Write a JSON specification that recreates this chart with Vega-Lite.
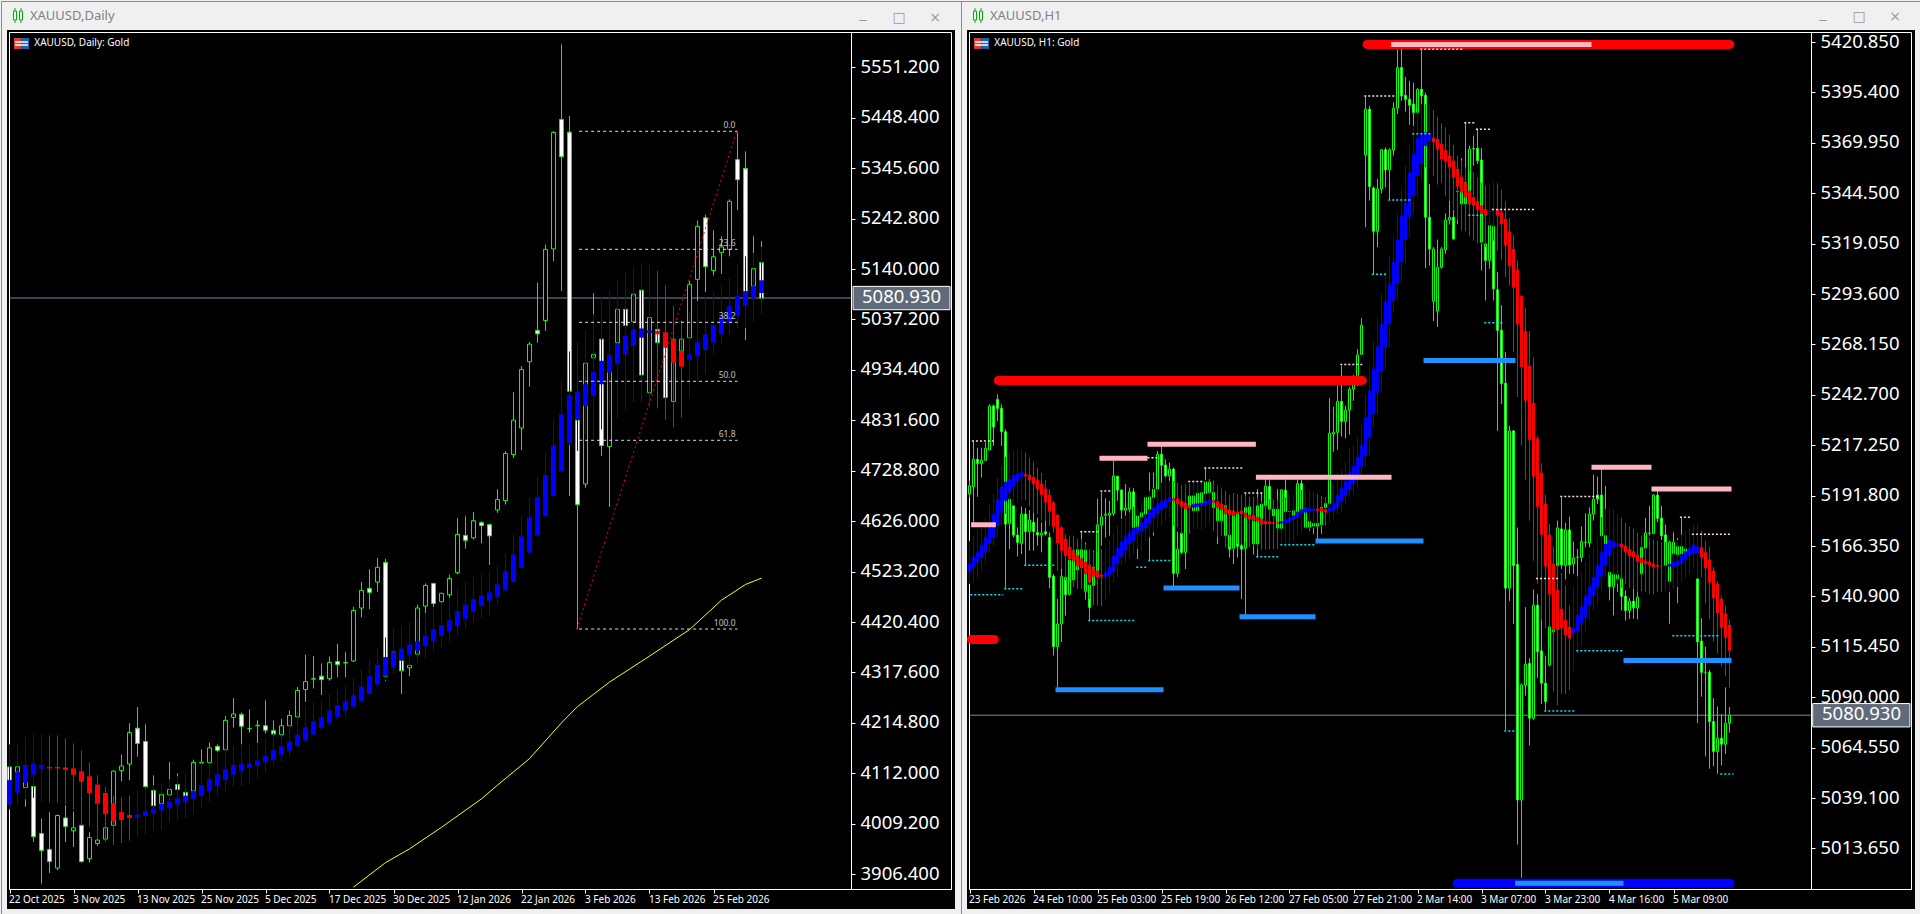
{"$schema":"https://vega.github.io/schema/vega-lite/v6.json","background":"#F0F0F0","padding":0,"spacing":0,"bounds":"flush","config":{"view":{"stroke":null}},
"datasets":{
"daily":[
{"i":0,"o":4125,"h":4144,"l":4082,"c":4098,"ho":4048.5,"hh":4171,"hl":4038,"hc":4098},
{"i":1,"o":4114.5,"h":4130,"l":4106,"c":4125.3,"ho":4072.3,"hh":4173,"hl":4048.5,"hc":4114.5},
{"i":2,"o":4083,"h":4137,"l":4044,"c":4110,"ho":4093,"hh":4186,"hl":4059,"hc":4129},
{"i":3,"o":4085,"h":4123,"l":3972,"c":3983,"ho":4109,"hh":4194,"hl":4062,"hc":4132},
{"i":4,"o":3989.3,"h":4020,"l":3887,"c":3955,"ho":4121,"hh":4191,"hl":4055,"hc":4129},
{"i":5,"o":3957,"h":4033,"l":3909,"c":3932,"ho":4125,"hh":4189,"hl":4053,"hc":4122},
{"i":6,"o":3919,"h":4028,"l":3915,"c":4026,"ho":4125,"hh":4189,"hl":4052,"hc":4122},
{"i":7,"o":4021,"h":4047,"l":3972,"c":4004,"ho":4124,"hh":4183,"hl":4049,"hc":4119},
{"i":8,"o":3995,"h":4034,"l":3962,"c":4001,"ho":4122,"hh":4173,"hl":4038,"hc":4109},
{"i":9,"o":4006,"h":4006,"l":3930,"c":3932,"ho":4116,"hh":4159,"hl":4006,"hc":4095},
{"i":10,"o":3938,"h":3992,"l":3930,"c":3981,"ho":4106,"hh":4134,"hl":4004,"hc":4072},
{"i":11,"o":3969,"h":3987,"l":3964,"c":3976,"ho":4089,"hh":4108,"hl":3977,"hc":4050},
{"i":12,"o":3978,"h":4055,"l":3972,"c":4001,"ho":4072,"hh":4084,"hl":3972,"hc":4029},
{"i":13,"o":4006,"h":4118,"l":4004,"c":4116.5,"ho":4051,"hh":4065,"hl":3966,"hc":4015},
{"i":14,"o":4118,"h":4150,"l":4096,"c":4127,"ho":4033,"hh":4063,"hl":3970,"hc":4017},
{"i":15,"o":4131,"h":4214,"l":4098,"c":4195,"ho":4027,"hh":4067,"hl":3975,"hc":4021},
{"i":16,"o":4204,"h":4247,"l":4146,"c":4173,"ho":4023,"hh":4076,"hl":3983,"hc":4028},
{"i":17,"o":4177,"h":4212,"l":4076,"c":4085,"ho":4025,"hh":4084,"hl":3987,"hc":4035},
{"i":18,"o":4077,"h":4108,"l":4042,"c":4046,"ho":4030,"hh":4088,"hl":3995,"hc":4040},
{"i":19,"o":4050,"h":4072,"l":3999,"c":4069,"ho":4036,"hh":4092,"hl":3999,"hc":4049},
{"i":20,"o":4068,"h":4135,"l":4055,"c":4079,"ho":4041,"hh":4100,"hl":4012,"hc":4055},
{"i":21,"o":4089,"h":4112,"l":4062,"c":4079,"ho":4048,"hh":4106,"hl":4017,"hc":4061},
{"i":22,"o":4073,"h":4089,"l":4062,"c":4066,"ho":4053,"hh":4110,"hl":4021,"hc":4066},
{"i":23,"o":4076,"h":4140,"l":4062,"c":4134,"ho":4060,"hh":4130,"hl":4030,"hc":4076},
{"i":24,"o":4133,"h":4161,"l":4088,"c":4134,"ho":4066,"hh":4134,"hl":4041,"hc":4088},
{"i":25,"o":4134,"h":4175,"l":4130,"c":4164,"ho":4076,"hh":4142,"hl":4053,"hc":4100},
{"i":26,"o":4167,"h":4171,"l":4154,"c":4159,"ho":4086,"hh":4156,"hl":4066,"hc":4110},
{"i":27,"o":4160,"h":4229,"l":4157,"c":4220,"ho":4098,"hh":4168,"hl":4076,"hc":4120},
{"i":28,"o":4226,"h":4265,"l":4205,"c":4233,"ho":4109,"hh":4168,"hl":4085,"hc":4129},
{"i":29,"o":4232,"h":4236,"l":4171,"c":4208,"ho":4117,"hh":4170,"hl":4086,"hc":4131.5},
{"i":30,"o":4203,"h":4242,"l":4195,"c":4203,"ho":4123,"hh":4170,"hl":4092,"hc":4132},
{"i":31,"o":4209,"h":4220,"l":4174,"c":4210,"ho":4127,"hh":4171,"hl":4103,"hc":4138},
{"i":32,"o":4209,"h":4261,"l":4193,"c":4200,"ho":4134,"hh":4182,"hl":4114,"hc":4148},
{"i":33,"o":4199,"h":4220,"l":4178,"c":4192,"ho":4139,"hh":4195,"hl":4129,"hc":4159},
{"i":34,"o":4191,"h":4223,"l":4178,"c":4209,"ho":4150,"hh":4199,"hl":4137,"hc":4167},
{"i":35,"o":4209,"h":4240,"l":4198,"c":4230,"ho":4158,"hh":4220,"hl":4147,"hc":4177},
{"i":36,"o":4227,"h":4288,"l":4219,"c":4281,"ho":4168,"hh":4236,"hl":4164,"hc":4191},
{"i":37,"o":4283,"h":4354,"l":4258,"c":4299,"ho":4179,"hh":4248,"hl":4174,"hc":4206},
{"i":38,"o":4304,"h":4351,"l":4285,"c":4305,"ho":4191,"hh":4256,"hl":4188,"hc":4218},
{"i":39,"o":4310,"h":4336,"l":4272,"c":4303,"ho":4204,"hh":4261,"hl":4198,"hc":4227},
{"i":40,"o":4305,"h":4350,"l":4301,"c":4338,"ho":4215,"hh":4274,"hl":4208,"hc":4240},
{"i":41,"o":4340,"h":4376,"l":4308,"c":4334,"ho":4227,"hh":4283,"hl":4221,"hc":4251},
{"i":42,"o":4337,"h":4359,"l":4308,"c":4338,"ho":4240,"hh":4289,"hl":4227,"hc":4259},
{"i":43,"o":4341,"h":4451,"l":4339,"c":4444,"ho":4248,"hh":4306,"hl":4242,"hc":4271},
{"i":44,"o":4449,"h":4502,"l":4430,"c":4485,"ho":4259,"hh":4324,"hl":4256,"hc":4289},
{"i":45,"o":4489,"h":4528,"l":4447,"c":4481,"ho":4274,"hh":4344,"hl":4273,"hc":4310},
{"i":46,"o":4502,"h":4551,"l":4482,"c":4532,"ho":4293,"hh":4367,"hl":4292,"hc":4333},
{"i":47,"o":4542,"h":4549,"l":4300,"c":4310,"ho":4310,"hh":4389,"hl":4302,"hc":4349},
{"i":48,"o":4359,"h":4405,"l":4317,"c":4330,"ho":4328,"hh":4405,"hl":4317,"hc":4359},
{"i":49,"o":4342,"h":4375,"l":4274,"c":4321,"ho":4342,"hh":4411,"hl":4320,"hc":4366},
{"i":50,"o":4327,"h":4368,"l":4310,"c":4332,"ho":4354,"hh":4419,"hl":4330,"hc":4375},
{"i":51,"o":4355,"h":4456,"l":4354,"c":4449,"ho":4362,"hh":4428,"hl":4337,"hc":4381},
{"i":52,"o":4453,"h":4499,"l":4438,"c":4495,"ho":4371,"hh":4439,"hl":4346,"hc":4393},
{"i":53,"o":4499,"h":4501,"l":4451,"c":4458,"ho":4382,"hh":4449,"hl":4360,"hc":4406},
{"i":54,"o":4462,"h":4480,"l":4460,"c":4479,"ho":4392,"hh":4460,"hl":4368,"hc":4414},
{"i":55,"o":4476,"h":4517,"l":4470,"c":4509,"ho":4402,"hh":4468,"hl":4378,"hc":4424},
{"i":56,"o":4521,"h":4632,"l":4518,"c":4599,"ho":4412,"hh":4489,"hl":4392,"hc":4443},
{"i":57,"o":4597,"h":4636,"l":4570,"c":4587,"ho":4427,"hh":4502,"hl":4408,"hc":4456},
{"i":58,"o":4592,"h":4645,"l":4589,"c":4627,"ho":4441,"hh":4512,"hl":4420,"hc":4467},
{"i":59,"o":4623,"h":4626,"l":4581,"c":4617,"ho":4453,"hh":4520,"hl":4428,"hc":4475},
{"i":60,"o":4619,"h":4621,"l":4537,"c":4596,"ho":4464,"hh":4524,"hl":4432,"hc":4481},
{"i":61,"o":4649,"h":4691,"l":4643,"c":4670,"ho":4472,"hh":4534,"hl":4457,"hc":4497},
{"i":62,"o":4668,"h":4769,"l":4660,"c":4764,"ho":4485,"hh":4561,"hl":4480,"hc":4524},
{"i":63,"o":4762,"h":4889,"l":4755,"c":4832,"ho":4502,"hh":4598,"hl":4500,"hc":4558},
{"i":64,"o":4816,"h":4942,"l":4771,"c":4935,"ho":4531,"hh":4636,"hl":4529,"hc":4595},
{"i":65,"o":4951,"h":4991,"l":4900,"c":4987,"ho":4562,"hh":4674,"hl":4560,"hc":4634},
{"i":66,"o":5015,"h":5112,"l":4990,"c":5008,"ho":4597,"hh":4717,"hl":4597,"hc":4675},
{"i":67,"o":5035,"h":5190,"l":5014,"c":5180,"ho":4636,"hh":4766,"hl":4636,"hc":4720},
{"i":68,"o":5181,"h":5421,"l":5156,"c":5418.5,"ho":4677,"hh":4834,"hl":4677,"hc":4781},
{"i":69,"o":5445,"h":5598,"l":5095,"c":5369,"ho":4728,"hh":4912,"hl":4728,"hc":4844},
{"i":70,"o":5419,"h":5452,"l":4677,"c":4891,"ho":4786,"hh":4972,"hl":4781,"hc":4883},
{"i":71,"o":4832,"h":4844,"l":4406,"c":4660,"ho":4832,"hh":4990,"hl":4769,"hc":4889},
{"i":72,"o":4702,"h":4952,"l":4694,"c":4948,"ho":4861,"hh":5014,"hl":4803,"hc":4905},
{"i":73,"o":4959,"h":5091,"l":4939,"c":4966,"ho":4881,"hh":5048,"hl":4796,"hc":4930},
{"i":74,"o":4997,"h":4999,"l":4759,"c":4780,"ho":4905,"hh":5082,"hl":4813,"hc":4953},
{"i":75,"o":4778,"h":5075,"l":4655,"c":4950,"ho":4929,"hh":5095,"hl":4851,"hc":4965},
{"i":76,"o":4990,"h":5082,"l":4983,"c":5058,"ho":4946,"hh":5117,"hl":4835,"hc":4987},
{"i":77,"o":5058,"h":5075,"l":5024,"c":5025,"ho":4966,"hh":5133,"hl":4851,"hc":5004},
{"i":78,"o":5033,"h":5095,"l":5027,"c":5089,"ho":4983,"hh":5144,"hl":4869,"hc":5017},
{"i":79,"o":5097,"h":5116,"l":4922,"c":4924,"ho":5000,"hh":5152,"hl":4867,"hc":5019},
{"i":80,"o":4888,"h":5048,"l":4881,"c":5041,"ho":5010,"hh":5148,"hl":4857,"hc":5015},
{"i":81,"o":5017,"h":5020,"l":4987,"c":4990,"ho":5014,"hh":5136,"hl":4856,"hc":5007},
{"i":82,"o":4980,"h":4987,"l":4871,"c":4878,"ho":5011,"hh":5107,"hl":4833,"hc":4980},
{"i":83,"o":4870,"h":5004,"l":4864,"c":4997,"ho":4997,"hh":5065,"hl":4817,"hc":4949},
{"i":84,"o":4973,"h":5034,"l":4952,"c":4997,"ho":4973,"hh":5031,"hl":4837,"hc":4941},
{"i":85,"o":5000,"h":5116,"l":4993,"c":5109,"ho":4955,"hh":5051,"hl":4878,"hc":4966},
{"i":86,"o":5119,"h":5239,"l":5074,"c":5227,"ho":4962,"hh":5068,"hl":4910,"hc":4991},
{"i":87,"o":5244.4,"h":5251,"l":5093,"c":5145,"ho":4975,"hh":5082,"hl":4925,"hc":5007},
{"i":88,"o":5137,"h":5219,"l":5127,"c":5165,"ho":4990,"hh":5093,"hl":4967,"hc":5026},
{"i":89,"o":5174,"h":5207,"l":5130,"c":5185,"ho":5007,"hh":5108,"hl":4987,"hc":5046},
{"i":90,"o":5180,"h":5282,"l":5166,"c":5278,"ho":5029,"hh":5123,"hl":5007,"hc":5065},
{"i":91,"o":5363,"h":5418,"l":5260,"c":5322,"ho":5044,"hh":5148,"hl":5020,"hc":5085},
{"i":92,"o":5345,"h":5380,"l":4995,"c":5085,"ho":5065,"hh":5166,"hl":5020,"hc":5095},
{"i":93,"o":5105,"h":5207,"l":5034,"c":5141,"ho":5080,"hh":5173,"hl":5034,"hc":5105},
{"i":94,"o":5153,"h":5197,"l":5065,"c":5080.93,"ho":5091,"hh":5185,"hl":5048,"hc":5117}
],
"ma":[{"i":43,"v":3880},{"i":47,"v":3930},{"i":50,"v":3958},{"i":54,"v":4002},{"i":59,"v":4060},{"i":61,"v":4088},{"i":65,"v":4142},{"i":69,"v":4215},{"i":71,"v":4248},{"i":75,"v":4298},{"i":80,"v":4351},{"i":85,"v":4405},{"i":89,"v":4465},{"i":92,"v":4497},{"i":94,"v":4510}],
"fib":[{"a":71.2,"b":91,"p":5420.8,"t":"0.0"},{"a":71.2,"b":91,"p":5180.2,"t":"23.6"},{"a":71.2,"b":91,"p":5031.4,"t":"38.2"},{"a":71.2,"b":91,"p":4911.2,"t":"50.0"},{"a":71.2,"b":91,"p":4790.9,"t":"61.8"},{"a":71.2,"b":91,"p":4406.2,"t":"100.0"}],
"h1":[
{"i":0,"o":5192.6,"h":5199.3,"l":5190.9,"c":5196.8,"ho":5153.1,"hh":5169,"hl":5147.2,"hc":5157.3},
{"i":1,"o":5196.3,"h":5219.4,"l":5177.4,"c":5210.2,"ho":5155.6,"hh":5171.6,"hl":5148,"hc":5161},
{"i":2,"o":5210.2,"h":5216,"l":5191.2,"c":5208,"ho":5158.1,"hh":5174.1,"hl":5150.6,"hc":5163.2},
{"i":3,"o":5208,"h":5216,"l":5201,"c":5209.7,"ho":5160.3,"hh":5177.4,"hl":5153.9,"hc":5167},
{"i":4,"o":5209.7,"h":5218.6,"l":5209.4,"c":5215.7,"ho":5163.2,"hh":5180.8,"hl":5157.6,"hc":5171},
{"i":5,"o":5214.9,"h":5237.9,"l":5214.7,"c":5237.1,"ho":5167.4,"hh":5187.2,"hl":5162.7,"hc":5175.8},
{"i":6,"o":5237.1,"h":5237.9,"l":5216.9,"c":5226.5,"ho":5170.7,"hh":5192.9,"hl":5166.5,"hc":5182.5},
{"i":7,"o":5240.4,"h":5243,"l":5229.5,"c":5235.9,"ho":5176.6,"hh":5200.6,"hl":5170.7,"hc":5190},
{"i":8,"o":5235.9,"h":5237.9,"l":5216.9,"c":5224.1,"ho":5183.3,"hh":5206.8,"hl":5176.6,"hc":5196.3},
{"i":9,"o":5224.1,"h":5225.3,"l":5144.7,"c":5177.4,"ho":5189.2,"hh":5211.4,"hl":5182.5,"hc":5198.8},
{"i":10,"o":5177.8,"h":5190,"l":5164.8,"c":5190,"ho":5193.4,"hh":5213.6,"hl":5185,"hc":5200.1},
{"i":11,"o":5186.7,"h":5190,"l":5170.7,"c":5171.9,"ho":5196.3,"hh":5214.7,"hl":5186.7,"hc":5202.3},
{"i":12,"o":5171.9,"h":5175.8,"l":5161.1,"c":5168.2,"ho":5199.3,"hh":5215.7,"hl":5188.4,"hc":5203.1},
{"i":13,"o":5167.7,"h":5186.2,"l":5162.3,"c":5182.5,"ho":5201.3,"hh":5215,"hl":5189.5,"hc":5203.6},
{"i":14,"o":5182.5,"h":5185.5,"l":5156.4,"c":5173.7,"ho":5202.6,"hh":5213.6,"hl":5189.5,"hc":5201.6},
{"i":15,"o":5173.7,"h":5184.5,"l":5164,"c":5179.5,"ho":5202.3,"hh":5211,"hl":5186.5,"hc":5199.6},
{"i":16,"o":5178.3,"h":5183.3,"l":5164,"c":5173.7,"ho":5201.3,"hh":5208.9,"hl":5183.3,"hc":5197.6},
{"i":17,"o":5173.2,"h":5180.8,"l":5166.5,"c":5171.9,"ho":5199.8,"hh":5206,"hl":5182.5,"hc":5195.2},
{"i":18,"o":5171.9,"h":5178.3,"l":5163.2,"c":5172.9,"ho":5197.9,"hh":5203.3,"hl":5179.1,"hc":5192.2},
{"i":19,"o":5173.6,"h":5181.6,"l":5171.6,"c":5172.4,"ho":5195.4,"hh":5199.6,"hl":5179.1,"hc":5188.4},
{"i":20,"o":5170.7,"h":5173.2,"l":5145,"c":5150.6,"ho":5192.2,"hh":5195.1,"hl":5176.6,"hc":5183.7},
{"i":21,"o":5151.1,"h":5152.2,"l":5111.1,"c":5115.6,"ho":5188.4,"hh":5189.2,"hl":5173.2,"hc":5176.1},
{"i":22,"o":5115.6,"h":5139.6,"l":5095.1,"c":5127,"ho":5182.1,"hh":5182.5,"hl":5153.9,"hc":5167.9},
{"i":23,"o":5127,"h":5155.6,"l":5117.8,"c":5150.9,"ho":5175.8,"hh":5176.6,"hl":5154.8,"hc":5164},
{"i":24,"o":5150.6,"h":5153.9,"l":5131.2,"c":5141.8,"ho":5170,"hh":5172.4,"hl":5148.9,"hc":5161.3},
{"i":25,"o":5142,"h":5162.3,"l":5141.3,"c":5159.3,"ho":5166,"hh":5171.6,"hl":5148,"hc":5159.8},
{"i":26,"o":5149.2,"h":5167.4,"l":5148.9,"c":5164,"ho":5164,"hh":5171.6,"hl":5145.5,"hc":5159},
{"i":27,"o":5164.5,"h":5169,"l":5152.2,"c":5154.3,"ho":5161.5,"hh":5169.9,"hl":5144.7,"hc":5156.1},
{"i":28,"o":5155.6,"h":5173.2,"l":5153.9,"c":5164.5,"ho":5160.1,"hh":5169.9,"hl":5144.7,"hc":5155.6},
{"i":29,"o":5143.5,"h":5168.2,"l":5139.3,"c":5164.3,"ho":5158.3,"hh":5167.4,"hl":5144.7,"hc":5152.2},
{"i":30,"o":5146.7,"h":5152.2,"l":5128.7,"c":5135.4,"ho":5156.9,"hh":5164.8,"hl":5139.6,"hc":5148},
{"i":31,"o":5146.4,"h":5164,"l":5136.8,"c":5155.6,"ho":5155.1,"hh":5163.2,"hl":5137.1,"hc":5150.9},
{"i":32,"o":5152.6,"h":5190.2,"l":5140.5,"c":5177.1,"ho":5153.9,"hh":5163.2,"hl":5136.3,"hc":5150.6},
{"i":33,"o":5176.9,"h":5193.6,"l":5166.5,"c":5181.1,"ho":5151.9,"hh":5164.8,"hl":5136,"hc":5150.9},
{"i":34,"o":5182,"h":5190.5,"l":5170.7,"c":5182.3,"ho":5150.9,"hh":5164.8,"hl":5138.8,"hc":5153.1},
{"i":35,"o":5182,"h":5189.2,"l":5171.6,"c":5183,"ho":5151.4,"hh":5169,"hl":5142.2,"hc":5155.9},
{"i":36,"o":5182.8,"h":5209.4,"l":5181.6,"c":5201.8,"ho":5153.1,"hh":5172.7,"hl":5148,"hc":5161.3},
{"i":37,"o":5201.6,"h":5201.8,"l":5189.2,"c":5194.6,"ho":5157.3,"hh":5176.6,"hl":5150.6,"hc":5165.3},
{"i":38,"o":5194.6,"h":5195.1,"l":5180,"c":5184.5,"ho":5161,"hh":5179.5,"hl":5157.3,"hc":5168.7},
{"i":39,"o":5184.5,"h":5197.6,"l":5181.6,"c":5185.5,"ho":5164,"hh":5181.6,"hl":5158.1,"hc":5171.2},
{"i":40,"o":5185,"h":5195.9,"l":5181.6,"c":5193.7,"ho":5167.4,"hh":5183.3,"hl":5159.8,"hc":5173.2},
{"i":41,"o":5193.7,"h":5195.6,"l":5167.4,"c":5175.8,"ho":5169,"hh":5186.2,"hl":5162.3,"hc":5175.3},
{"i":42,"o":5175.8,"h":5184.2,"l":5159.8,"c":5181.6,"ho":5172.7,"hh":5185.5,"hl":5164.8,"hc":5176.1},
{"i":43,"o":5181.1,"h":5185,"l":5180.8,"c":5183.2,"ho":5174.1,"hh":5188.4,"hl":5164,"hc":5178.3},
{"i":44,"o":5182.5,"h":5191.7,"l":5181.6,"c":5190.9,"ho":5175.4,"hh":5191.7,"hl":5169,"hc":5180.8},
{"i":45,"o":5185,"h":5203.5,"l":5159,"c":5191.2,"ho":5177.8,"hh":5194.2,"hl":5170.7,"hc":5183.7},
{"i":46,"o":5190.9,"h":5203.5,"l":5171.6,"c":5195.1,"ho":5180.5,"hh":5195.6,"hl":5173.2,"hc":5185.8},
{"i":47,"o":5195.1,"h":5214.4,"l":5194.2,"c":5212.7,"ho":5182.5,"hh":5197.9,"hl":5175.4,"hc":5187.5},
{"i":48,"o":5212.7,"h":5216.9,"l":5192.6,"c":5207.2,"ho":5184.7,"hh":5198.4,"hl":5176.6,"hc":5189.2},
{"i":49,"o":5207.3,"h":5210.2,"l":5199.3,"c":5201.8,"ho":5185.8,"hh":5201,"hl":5179.1,"hc":5190},
{"i":50,"o":5201.8,"h":5208.5,"l":5198.4,"c":5205.2,"ho":5188.7,"hh":5199.3,"hl":5180.8,"hc":5191.2},
{"i":51,"o":5205.2,"h":5206,"l":5145.5,"c":5152.6,"ho":5190.5,"hh":5199.3,"hl":5176.6,"hc":5189.2},
{"i":52,"o":5152.6,"h":5173.6,"l":5150.6,"c":5164.8,"ho":5190.4,"hh":5198.4,"hl":5175.8,"hc":5187.5},
{"i":53,"o":5172.9,"h":5173.2,"l":5162.3,"c":5163.2,"ho":5189.2,"hh":5197.3,"hl":5172.4,"hc":5186.2},
{"i":54,"o":5163.2,"h":5189.2,"l":5154.8,"c":5186.2,"ho":5188.2,"hh":5197.6,"hl":5173.2,"hc":5185},
{"i":55,"o":5185.8,"h":5193.4,"l":5185,"c":5191.7,"ho":5186.8,"hh":5197.9,"hl":5172.4,"hc":5185.5},
{"i":56,"o":5191.7,"h":5192.6,"l":5183.3,"c":5184.2,"ho":5185.8,"hh":5198.4,"hl":5174.9,"hc":5187.5},
{"i":57,"o":5184.2,"h":5194.2,"l":5183.3,"c":5193.1,"ho":5186.2,"hh":5198.4,"hl":5174.9,"hc":5187.9},
{"i":58,"o":5187.5,"h":5194.2,"l":5186.7,"c":5193.4,"ho":5186.5,"hh":5199.3,"hl":5174.4,"hc":5188.2},
{"i":59,"o":5192.9,"h":5206,"l":5192.6,"c":5198.8,"ho":5187.2,"hh":5199.8,"hl":5175.8,"hc":5189.2},
{"i":60,"o":5193.4,"h":5200.1,"l":5192.6,"c":5198.8,"ho":5187.5,"hh":5199.3,"hl":5177.4,"hc":5189.9},
{"i":61,"o":5193.4,"h":5199.3,"l":5179.1,"c":5185.8,"ho":5189.5,"hh":5198.8,"hl":5174.1,"hc":5188.2},
{"i":62,"o":5179.1,"h":5194.2,"l":5167.4,"c":5185.8,"ho":5188.9,"hh":5196.8,"hl":5170.7,"hc":5185.8},
{"i":63,"o":5179.1,"h":5189.2,"l":5176.6,"c":5185.5,"ho":5187.5,"hh":5195.6,"hl":5171.6,"hc":5184.5},
{"i":64,"o":5171.6,"h":5192.6,"l":5165.7,"c":5186.7,"ho":5186.2,"hh":5194.2,"hl":5165.7,"hc":5182.5},
{"i":65,"o":5171.9,"h":5172.4,"l":5160.6,"c":5164.8,"ho":5184.8,"hh":5192.1,"hl":5165.7,"hc":5182.1},
{"i":66,"o":5165.2,"h":5184.2,"l":5157.3,"c":5183.8,"ho":5184.2,"hh":5193.2,"hl":5164.8,"hc":5181.6},
{"i":67,"o":5183.3,"h":5184.2,"l":5160.6,"c":5166.2,"ho":5183.7,"hh":5192.6,"hl":5167.4,"hc":5182.5},
{"i":68,"o":5166.5,"h":5172.4,"l":5139.6,"c":5164.8,"ho":5184.2,"hh":5192.1,"hl":5167.4,"hc":5182.5},
{"i":69,"o":5165.2,"h":5192.6,"l":5131.2,"c":5185.8,"ho":5183.2,"hh":5191.9,"hl":5168.2,"hc":5180.8},
{"i":70,"o":5180,"h":5190.9,"l":5172.4,"c":5186.2,"ho":5182.1,"hh":5190.9,"hl":5165.7,"hc":5180},
{"i":71,"o":5167.4,"h":5182.5,"l":5162,"c":5179.1,"ho":5182.1,"hh":5191.2,"hl":5166.5,"hc":5179.5},
{"i":72,"o":5167.4,"h":5195.1,"l":5160.6,"c":5186.7,"ho":5181.1,"hh":5190.9,"hl":5164.8,"hc":5178.8},
{"i":73,"o":5177.4,"h":5193.4,"l":5176.6,"c":5187.5,"ho":5180.1,"hh":5189.2,"hl":5164.5,"hc":5177.4},
{"i":74,"o":5186.7,"h":5200.1,"l":5185.8,"c":5196.6,"ho":5179.1,"hh":5189.5,"hl":5164.5,"hc":5177.4},
{"i":75,"o":5196.4,"h":5199.6,"l":5181.6,"c":5185,"ho":5178.6,"hh":5190,"hl":5164.8,"hc":5177.8},
{"i":76,"o":5185,"h":5185.8,"l":5180.8,"c":5181.6,"ho":5178.4,"hh":5190,"hl":5164.8,"hc":5177.8},
{"i":77,"o":5175.4,"h":5195.1,"l":5174.9,"c":5185,"ho":5178.4,"hh":5189.7,"hl":5164.8,"hc":5177.8},
{"i":78,"o":5175.3,"h":5195.1,"l":5169,"c":5194.7,"ho":5177.8,"hh":5190.9,"hl":5167.4,"hc":5178.8},
{"i":79,"o":5194.6,"h":5200.1,"l":5183.3,"c":5183.8,"ho":5178.1,"hh":5190.9,"hl":5164.8,"hc":5179.8},
{"i":80,"o":5183.8,"h":5184.2,"l":5183.3,"c":5183.8,"ho":5178.4,"hh":5192.2,"hl":5167.4,"hc":5180.8},
{"i":81,"o":5181.6,"h":5185,"l":5180.8,"c":5184.2,"ho":5179.5,"hh":5192.2,"hl":5169,"hc":5181.8},
{"i":82,"o":5183.7,"h":5199.8,"l":5182.5,"c":5197.9,"ho":5180.5,"hh":5194.2,"hl":5171.6,"hc":5183.3},
{"i":83,"o":5197.9,"h":5199.8,"l":5185,"c":5185,"ho":5182.5,"hh":5194.6,"hl":5173.2,"hc":5185},
{"i":84,"o":5175.8,"h":5185.8,"l":5174.9,"c":5185.5,"ho":5183.3,"hh":5194.6,"hl":5174.4,"hc":5185.5},
{"i":85,"o":5175.8,"h":5179.1,"l":5174.1,"c":5178.8,"ho":5183.8,"hh":5194.2,"hl":5174.9,"hc":5185.5},
{"i":86,"o":5177.8,"h":5179.1,"l":5172.4,"c":5176.4,"ho":5184.2,"hh":5193.9,"hl":5175.4,"hc":5185.3},
{"i":87,"o":5176.4,"h":5185,"l":5169.9,"c":5177.8,"ho":5185.2,"hh":5192.6,"hl":5176.1,"hc":5184.2},
{"i":88,"o":5177.1,"h":5186.2,"l":5172.4,"c":5185.8,"ho":5185.5,"hh":5191.7,"hl":5176.1,"hc":5183.8},
{"i":89,"o":5185.8,"h":5190.9,"l":5185,"c":5187.9,"ho":5184.8,"hh":5191.2,"hl":5176.6,"hc":5183.3},
{"i":90,"o":5187.9,"h":5241,"l":5185.8,"c":5223.3,"ho":5183.8,"hh":5192.6,"hl":5177.8,"hc":5185.8},
{"i":91,"o":5222.9,"h":5236.7,"l":5214,"c":5223.8,"ho":5184.2,"hh":5197.6,"hl":5179.5,"hc":5187.9},
{"i":92,"o":5223.8,"h":5247.3,"l":5215,"c":5239.4,"ho":5186.2,"hh":5203.5,"hl":5182.5,"hc":5192.2},
{"i":93,"o":5239.4,"h":5257.4,"l":5221.7,"c":5229.3,"ho":5188.7,"hh":5205.2,"hl":5183.3,"hc":5195.6},
{"i":94,"o":5229.3,"h":5237.2,"l":5220.7,"c":5235,"ho":5191.7,"hh":5208.5,"hl":5187.5,"hc":5199.3},
{"i":95,"o":5235,"h":5246.8,"l":5222.6,"c":5245.6,"ho":5194.6,"hh":5216,"hl":5190.9,"hc":5203.5},
{"i":96,"o":5245.6,"h":5252.7,"l":5239.7,"c":5248.1,"ho":5197.6,"hh":5216.9,"hl":5192.2,"hc":5206.8},
{"i":97,"o":5248.1,"h":5265.8,"l":5247.3,"c":5262.9,"ho":5201.8,"hh":5221.5,"hl":5195.9,"hc":5211.4},
{"i":98,"o":5263.2,"h":5281.4,"l":5262.9,"c":5277.9,"ho":5206.5,"hh":5227.8,"hl":5201.8,"hc":5217.4},
{"i":99,"o":5363.8,"h":5393.4,"l":5327.4,"c":5387,"ho":5212,"hh":5243.1,"hl":5206,"hc":5231.3},
{"i":100,"o":5387,"h":5388.7,"l":5340.8,"c":5347.9,"ho":5221.2,"hh":5257.9,"hl":5212,"hc":5244.8},
{"i":101,"o":5347.2,"h":5347.9,"l":5303.5,"c":5325.3,"ho":5233,"hh":5269.5,"hl":5226.3,"hc":5256},
{"i":102,"o":5325.3,"h":5351.7,"l":5317.3,"c":5346.7,"ho":5243.9,"hh":5281.4,"hl":5233,"hc":5267.1},
{"i":103,"o":5346.7,"h":5366.8,"l":5344.5,"c":5366.5,"ho":5254.8,"hh":5294,"hl":5243.9,"hc":5278.4},
{"i":104,"o":5366.5,"h":5367.7,"l":5347.5,"c":5356.3,"ho":5266.6,"hh":5305.2,"hl":5254.8,"hc":5289.8},
{"i":105,"o":5356.3,"h":5367.2,"l":5341.3,"c":5366.5,"ho":5278.4,"hh":5312.8,"hl":5266.6,"hc":5298.5},
{"i":106,"o":5366.3,"h":5390.4,"l":5363.5,"c":5387.5,"ho":5290.4,"hh":5322.7,"hl":5284.5,"hc":5309.7},
{"i":107,"o":5387.5,"h":5417.2,"l":5384.5,"c":5408,"ho":5298.8,"hh":5334,"hl":5290.4,"hc":5321},
{"i":108,"o":5408,"h":5418.1,"l":5391.2,"c":5393.7,"ho":5309.7,"hh":5346.7,"hl":5298.8,"hc":5333.2},
{"i":109,"o":5394,"h":5403.3,"l":5385.8,"c":5391.9,"ho":5321.3,"hh":5358.4,"hl":5308.9,"hc":5339.6},
{"i":110,"o":5392,"h":5401.3,"l":5379.1,"c":5389,"ho":5332.7,"hh":5369.4,"hl":5322.3,"hc":5355},
{"i":111,"o":5389.5,"h":5400.4,"l":5375.2,"c":5385.3,"ho":5343.3,"hh":5378.6,"hl":5334,"hc":5364.3},
{"i":112,"o":5385.3,"h":5397.6,"l":5384.5,"c":5397,"ho":5353.4,"hh":5387.8,"hl":5342.5,"hc":5372.4},
{"i":113,"o":5397,"h":5417.2,"l":5383.6,"c":5393.7,"ho":5359.3,"hh":5389.5,"hl":5350.9,"hc":5374.4},
{"i":114,"o":5394,"h":5395.4,"l":5306.7,"c":5332.4,"ho":5368.5,"hh":5389.5,"hl":5357.6,"hc":5375.2},
{"i":115,"o":5332.4,"h":5349.2,"l":5308,"c":5316.4,"ho":5371,"hh":5389.2,"hl":5356.8,"hc":5374.4},
{"i":116,"o":5290,"h":5317.3,"l":5280,"c":5316.4,"ho":5372.4,"hh":5386.5,"hl":5353.1,"hc":5370.4},
{"i":117,"o":5285,"h":5321.1,"l":5277,"c":5307.2,"ho":5372,"hh":5383.1,"hl":5348.9,"hc":5366.7},
{"i":118,"o":5307.2,"h":5317.3,"l":5306.4,"c":5316.4,"ho":5369.4,"hh":5379.8,"hl":5350,"hc":5361.8},
{"i":119,"o":5315.9,"h":5334.4,"l":5313.9,"c":5331,"ho":5366.3,"hh":5377.8,"hl":5343.3,"hc":5360.5},
{"i":120,"o":5331,"h":5340.8,"l":5328.7,"c":5332.4,"ho":5363.5,"hh":5374.1,"hl":5340.8,"hc":5357.6},
{"i":121,"o":5332.4,"h":5336.1,"l":5321,"c":5321.5,"ho":5361,"hh":5369,"hl":5336.6,"hc":5352.6},
{"i":122,"o":5345.5,"h":5350,"l":5329,"c":5345.3,"ho":5356.8,"hh":5363.5,"hl":5330.7,"hc":5347.9},
{"i":123,"o":5345.5,"h":5362.3,"l":5338.3,"c":5339.1,"ho":5352.9,"hh":5361,"hl":5325.7,"hc":5345},
{"i":124,"o":5339.1,"h":5380.3,"l":5338.3,"c":5350,"ho":5350,"hh":5357.6,"hl":5325.3,"hc":5342.5},
{"i":125,"o":5339.1,"h":5368.5,"l":5338.3,"c":5366.8,"ho":5345.8,"hh":5355.6,"hl":5322.7,"hc":5339.1},
{"i":126,"o":5367.2,"h":5373.6,"l":5358.4,"c":5367.1,"ho":5342.5,"hh":5355.1,"hl":5320.6,"hc":5338.3},
{"i":127,"o":5367.2,"h":5376.9,"l":5359.3,"c":5361,"ho":5340.5,"hh":5352.6,"hl":5319.3,"hc":5336.1},
{"i":128,"o":5361.3,"h":5367.3,"l":5305.5,"c":5319.8,"ho":5338.3,"hh":5350,"hl":5319,"hc":5334.1},
{"i":129,"o":5319,"h":5319.8,"l":5290.4,"c":5310.6,"ho":5336.6,"hh":5348.4,"hl":5317.3,"hc":5333.2},
{"i":130,"o":5310.6,"h":5328.2,"l":5306.4,"c":5328.2,"ho":5335,"hh":5349.2,"hl":5320.6,"hc":5335.6},
{"i":131,"o":5327.7,"h":5327.7,"l":5290.4,"c":5296.3,"ho":5335,"hh":5350,"hl":5320.6,"hc":5335.6},
{"i":132,"o":5295.8,"h":5304.7,"l":5224.5,"c":5275.3,"ho":5336.6,"hh":5349.5,"hl":5315.6,"hc":5333.2},
{"i":133,"o":5275.3,"h":5288,"l":5238,"c":5248.4,"ho":5334.9,"hh":5346.2,"hl":5310.6,"hc":5329},
{"i":134,"o":5248.6,"h":5264.4,"l":5073.5,"c":5145.1,"ho":5331.6,"hh":5340.3,"hl":5302.2,"hc":5318.1},
{"i":135,"o":5145.1,"h":5227,"l":5138.5,"c":5224.5,"ho":5325.2,"hh":5332.1,"hl":5298,"hc":5307.7},
{"i":136,"o":5224.5,"h":5224.9,"l":5127,"c":5156.5,"ho":5316.4,"hh":5323.5,"hl":5264.4,"hc":5296.8},
{"i":137,"o":5157,"h":5175.7,"l":5015.6,"c":5038.1,"ho":5306,"hh":5310.6,"hl":5241.7,"hc":5278.3},
{"i":138,"o":5038.1,"h":5097,"l":4998.8,"c":5096.2,"ho":5292.6,"hh":5292.9,"hl":5217,"hc":5256.8},
{"i":139,"o":5095.9,"h":5135.5,"l":5090.8,"c":5106.6,"ho":5275,"hh":5286.7,"hl":5199.9,"hc":5239.7},
{"i":140,"o":5107.1,"h":5109.7,"l":5065.6,"c":5079.4,"ho":5257.3,"hh":5274.9,"hl":5179.2,"hc":5220},
{"i":141,"o":5079.4,"h":5144.4,"l":5078.6,"c":5136.5,"ho":5238.7,"hh":5261.5,"hl":5159,"hc":5201.4},
{"i":142,"o":5136.5,"h":5142.2,"l":5099.6,"c":5113,"ho":5220.7,"hh":5222,"hl":5147.3,"hc":5186.2},
{"i":143,"o":5113.4,"h":5130.8,"l":5086.5,"c":5097.1,"ho":5203.4,"hh":5208.2,"hl":5128.8,"hc":5172.1},
{"i":144,"o":5097.1,"h":5111,"l":5083.1,"c":5087.8,"ho":5187.6,"hh":5192.3,"hl":5124.8,"hc":5156},
{"i":145,"o":5106.3,"h":5130.7,"l":5105.5,"c":5125.6,"ho":5172.1,"hh":5177.5,"hl":5114.7,"hc":5141.9},
{"i":146,"o":5123.1,"h":5131.3,"l":5111.3,"c":5131,"ho":5157.3,"hh":5166.1,"hl":5092.9,"hc":5123.9},
{"i":147,"o":5156.5,"h":5179.2,"l":5144.7,"c":5175.5,"ho":5144.4,"hh":5158.2,"hl":5085.8,"hc":5123.9},
{"i":148,"o":5175,"h":5190.9,"l":5154.8,"c":5156.8,"ho":5134.7,"hh":5152.8,"hl":5091.5,"hc":5124.8},
{"i":149,"o":5156.5,"h":5178,"l":5149.4,"c":5174.5,"ho":5129,"hh":5146.4,"hl":5091.7,"hc":5121.4},
{"i":150,"o":5174.5,"h":5181.2,"l":5152.3,"c":5156.8,"ho":5125.6,"hh":5136.3,"hl":5093.7,"hc":5119.7},
{"i":151,"o":5157.3,"h":5168.6,"l":5152.3,"c":5160.4,"ho":5122.6,"hh":5145.9,"hl":5103.3,"hc":5124.8},
{"i":152,"o":5160.7,"h":5164.9,"l":5151,"c":5160.8,"ho":5123.4,"hh":5150.6,"hl":5111.7,"hc":5131.5},
{"i":153,"o":5160.7,"h":5176.2,"l":5158.2,"c":5168.6,"ho":5127.3,"hh":5153.5,"hl":5116.4,"hc":5135.8},
{"i":154,"o":5168.2,"h":5182.9,"l":5165.7,"c":5168.3,"ho":5130.5,"hh":5158.5,"hl":5122.8,"hc":5141.4},
{"i":155,"o":5167.9,"h":5185.9,"l":5165.7,"c":5182.5,"ho":5136.3,"hh":5162,"hl":5128.8,"hc":5145.9},
{"i":156,"o":5182.5,"h":5202.4,"l":5179.2,"c":5190.1,"ho":5141,"hh":5165.7,"hl":5133.8,"hc":5150.6},
{"i":157,"o":5192.1,"h":5201.5,"l":5187.6,"c":5190.1,"ho":5145.6,"hh":5170.8,"hl":5137.2,"hc":5156.8},
{"i":158,"o":5192.1,"h":5205.2,"l":5170.8,"c":5171.6,"ho":5151,"hh":5180.9,"hl":5143.9,"hc":5163.2},
{"i":159,"o":5160,"h":5196.8,"l":5152.3,"c":5171.6,"ho":5156.5,"hh":5185.1,"hl":5150.6,"hc":5167.4},
{"i":160,"o":5153.1,"h":5161.5,"l":5138.9,"c":5145.9,"ho":5161.5,"hh":5185.6,"hl":5151.5,"hc":5169.4},
{"i":161,"o":5145.9,"h":5152.3,"l":5131.3,"c":5152,"ho":5165.7,"hh":5184.7,"hl":5147.3,"hc":5168.8},
{"i":162,"o":5151.8,"h":5152.3,"l":5143.1,"c":5149.8,"ho":5166.6,"hh":5182.5,"hl":5147.3,"hc":5167.8},
{"i":163,"o":5149.8,"h":5150.3,"l":5133.8,"c":5141,"ho":5167.4,"hh":5180.5,"hl":5145.2,"hc":5165.7},
{"i":164,"o":5141,"h":5143.9,"l":5128.8,"c":5133.8,"ho":5166.4,"hh":5178,"hl":5147.3,"hc":5163.2},
{"i":165,"o":5133.8,"h":5140.2,"l":5129.6,"c":5138.5,"ho":5164.9,"hh":5176.2,"hl":5145.2,"hc":5161.2},
{"i":166,"o":5138.5,"h":5145.2,"l":5129.6,"c":5135.2,"ho":5163.6,"hh":5175.1,"hl":5144.7,"hc":5160.7},
{"i":167,"o":5135,"h":5147.3,"l":5129.3,"c":5140.5,"ho":5161.9,"hh":5173.1,"hl":5143.1,"hc":5158.7},
{"i":168,"o":5152.3,"h":5165.7,"l":5152,"c":5165.7,"ho":5160.4,"hh":5171.6,"hl":5143.6,"hc":5157.7},
{"i":169,"o":5165.4,"h":5180.5,"l":5164.9,"c":5173,"ho":5159,"hh":5171.3,"hl":5143.1,"hc":5157.3},
{"i":170,"o":5172.8,"h":5186.7,"l":5171.6,"c":5172.9,"ho":5158.4,"hh":5170.8,"hl":5142.2,"hc":5156.5},
{"i":171,"o":5172.8,"h":5192.6,"l":5172.5,"c":5192.1,"ho":5157.3,"hh":5169.6,"hl":5141.9,"hc":5155.7},
{"i":172,"o":5192.1,"h":5194.3,"l":5178.3,"c":5180.4,"ho":5156.8,"hh":5169.1,"hl":5143.1,"hc":5156},
{"i":173,"o":5180.5,"h":5186.7,"l":5169.4,"c":5171.6,"ho":5156.5,"hh":5168.3,"hl":5143.1,"hc":5156.2},
{"i":174,"o":5172,"h":5177.2,"l":5148.9,"c":5156.5,"ho":5156.2,"hh":5168.3,"hl":5143.9,"hc":5156.5},
{"i":175,"o":5148.6,"h":5169.1,"l":5127.1,"c":5168.3,"ho":5156,"hh":5167.8,"hl":5143.1,"hc":5157.3},
{"i":176,"o":5162.4,"h":5173.3,"l":5161.5,"c":5168.3,"ho":5155.7,"hh":5168.3,"hl":5144.7,"hc":5158.2},
{"i":177,"o":5162,"h":5170.4,"l":5137.5,"c":5166.1,"ho":5156.3,"hh":5169.4,"hl":5145.6,"hc":5159},
{"i":178,"o":5162.4,"h":5180.5,"l":5161.5,"c":5166.1,"ho":5157.3,"hh":5172.1,"hl":5147.6,"hc":5161.5},
{"i":179,"o":5163.2,"h":5165.7,"l":5150.6,"c":5164.9,"ho":5159.4,"hh":5174.1,"hl":5150.6,"hc":5163.7},
{"i":180,"o":5162.9,"h":5165.7,"l":5162.4,"c":5164.9,"ho":5161.5,"hh":5175.5,"hl":5152.3,"hc":5165.2},
{"i":181,"o":5162.9,"h":5163.6,"l":5162.4,"c":5162.9,"ho":5162.4,"hh":5177.5,"hl":5155.3,"hc":5167.1},
{"i":182,"o":5149.8,"h":5163.2,"l":5076.9,"c":5118,"ho":5162.4,"hh":5177.5,"hl":5149.8,"hc":5166.1},
{"i":183,"o":5118.4,"h":5129.8,"l":5090.3,"c":5102.6,"ho":5165.7,"hh":5174.1,"hl":5150.6,"hc":5160.7},
{"i":184,"o":5102.6,"h":5115.5,"l":5060.1,"c":5102.6,"ho":5163.2,"hh":5169.1,"hl":5137.5,"hc":5155.2},
{"i":185,"o":5102.6,"h":5103.8,"l":5053.9,"c":5077.7,"ho":5159.4,"hh":5166.1,"hl":5129.6,"hc":5147.9},
{"i":186,"o":5077.7,"h":5089.5,"l":5055.1,"c":5062.6,"ho":5154,"hh":5155.7,"hl":5118,"hc":5140},
{"i":187,"o":5062.6,"h":5085.3,"l":5051.4,"c":5069.3,"ho":5147.3,"hh":5148.6,"hl":5112.2,"hc":5132.5},
{"i":188,"o":5069.3,"h":5081.4,"l":5055.6,"c":5066.3,"ho":5139.7,"hh":5141.4,"hl":5105.5,"hc":5125.1},
{"i":189,"o":5066.3,"h":5095,"l":5061.3,"c":5076.9,"ho":5132.3,"hh":5136.3,"hl":5100.8,"hc":5120.1},
{"i":190,"o":5076.9,"h":5085,"l":5072.2,"c":5080.93,"ho":5126.5,"hh":5129.3,"hl":5094.9,"hc":5113.5}
],
"red":[{"a":99.4,"b":190.1,"p":5419.7},{"a":7.2,"b":98.2,"p":5250},{"a":0.5,"b":6.2,"p":5119.2}],
"darkblue":[{"a":121.9,"b":190.1,"p":4996}],
"pink":[{"a":105.4,"b":155.5,"p":5419.7},{"a":0.4,"b":6.6,"p":5177.1},{"a":32.5,"b":44.5,"p":5210.7},{"a":44.5,"b":71.6,"p":5217.7},{"a":71.6,"b":105.5,"p":5201.1},{"a":155.5,"b":170.5,"p":5206.2},{"a":170.5,"b":190.5,"p":5195.1}],
"dodger":[{"a":21.5,"b":48.5,"p":5093.8},{"a":48.5,"b":67.5,"p":5145.2},{"a":67.5,"b":86.5,"p":5130.6},{"a":86.5,"b":113.5,"p":5168.9},{"a":113.5,"b":136.5,"p":5260.1},{"a":136.4,"b":163.5,"p":4996},{"a":163.5,"b":190.5,"p":5108.6}],
"hi":[{"a":98.7,"b":106.4,"p":5393.6},{"a":112.7,"b":123.3,"p":5417.2},{"a":123.7,"b":126.4,"p":5380.1},{"a":126.6,"b":130.4,"p":5376.8},{"a":130.6,"b":141.4,"p":5336.3},{"a":0.6,"b":6.4,"p":5219.4},{"a":27.7,"b":32.2,"p":5173.6},{"a":32.7,"b":35.4,"p":5194.2},{"a":44.5,"b":47.6,"p":5210.9},{"a":54.7,"b":58.5,"p":5198.9},{"a":58.7,"b":68.3,"p":5205.8},{"a":68.7,"b":73.3,"p":5193.2},{"a":92.7,"b":98.3,"p":5258},{"a":147.7,"b":157,"p":5191.4},{"a":177.6,"b":180.4,"p":5180.9},{"a":180.6,"b":190.4,"p":5172.3},{"a":141.6,"b":147.2,"p":5150}],
"lo":[{"a":100.6,"b":104.3,"p":5303.6},{"a":104.7,"b":110.4,"p":5341.1},{"a":110.7,"b":115.4,"p":5374.6},{"a":124.7,"b":128.4,"p":5333.4},{"a":0.2,"b":8.4,"p":5141.7},{"a":8.7,"b":13.3,"p":5144.8},{"a":13.7,"b":21.4,"p":5156.6},{"a":29.7,"b":41.4,"p":5128.7},{"a":41.7,"b":44.4,"p":5155.6},{"a":44.7,"b":50.4,"p":5159.1},{"a":71.7,"b":77.2,"p":5161},{"a":77.7,"b":86.2,"p":5167},{"a":128.7,"b":133.3,"p":5279.1},{"a":133.7,"b":137.2,"p":5072.9},{"a":143.7,"b":151.4,"p":5083},{"a":151.7,"b":163.4,"p":5113.5},{"a":175.7,"b":187.3,"p":5121.1},{"a":187.7,"b":191,"p":5051.2}]
},
"hconcat":[
{"width":960,"height":914,"view":{"fill":"#F0F0F0","stroke":"#8c8c8c"},"layer":[
{"data":{"values":[{"a":-0.3125,"b":118.19,"p0":3835.4,"p1":5627.3}]},"mark":{"type":"rect","fill":"#000000"},"encoding":{
"x":{"field":"a","type":"quantitative","scale":{"domain":[0,117.75],"range":[8.5,950.5],"nice":false,"zero":false,"padding":0},"axis":{"orient":"bottom","offset":-26,"title":null,"grid":false,"zindex":2,"domainColor":"#ffffff","tickColor":"#ffffff","tickSize":4,"labelColor":"#ffffff","labelFont":"Noto Sans","labelFontSize":10,"labelAlign":"left","labelBaseline":"top","labelPadding":1,"labelOffset":-1,"labelOverlap":false,"labelFlush":false,"labelBound":false,"values":[0,8,16,24,32,40,48,56,64,72,80,88],"labelExpr":"['22 Oct 2025','3 Nov 2025','13 Nov 2025','25 Nov 2025','5 Dec 2025','17 Dec 2025','30 Dec 2025','12 Jan 2026','22 Jan 2026','3 Feb 2026','13 Feb 2026','25 Feb 2026'][datum.value/8]"}},
"x2":{"field":"b"},
"y":{"field":"p0","type":"quantitative","scale":{"domain":[3875.2,5622.2],"range":[888.5,31.5],"nice":false,"zero":false},"axis":{"orient":"right","offset":-110,"title":null,"grid":false,"zindex":2,"domainColor":"#ffffff","tickColor":"#ffffff","tickSize":4,"labelColor":"#ffffff","labelFont":"Noto Sans","labelFontSize":18.5,"labelPadding":5,"labelOffset":-1,"labelOverlap":false,"labelFlush":false,"labelBound":false,"format":".3f","values":[3906.4,4009.2,4112,4214.8,4317.6,4420.4,4523.2,4626,4728.8,4831.6,4934.4,5037.2,5140,5242.8,5345.6,5448.4,5551.2]}},
"y2":{"field":"p1"}}},
{"data":{"values":[{"a":0,"b":117.75,"p0":3875.2,"p1":5622.2}]},"mark":{"type":"rect","fill":null,"stroke":"#ffffff","strokeWidth":1},"encoding":{"x":{"field":"a","type":"quantitative"},"x2":{"field":"b"},"y":{"field":"p0","type":"quantitative"},"y2":{"field":"p1"}}},
{"data":{"values":[{"a":0,"b":105.25,"p":5080.93}]},"mark":{"type":"rule","stroke":"#778899","strokeWidth":1},"encoding":{"x":{"field":"a","type":"quantitative"},"x2":{"field":"b"},"y":{"field":"p","type":"quantitative"}}},
{"data":{"name":"ma"},"mark":{"type":"line","stroke":"#FFFF00","strokeWidth":1},"encoding":{"x":{"field":"i","type":"quantitative"},"y":{"field":"v","type":"quantitative"}}},
{"data":{"name":"daily"},"mark":{"type":"rule","stroke":"#00FF00","strokeWidth":1},"encoding":{"x":{"field":"i","type":"quantitative"},"y":{"field":"l","type":"quantitative"},"y2":{"field":"h"}}},
{"data":{"name":"daily"},"mark":{"type":"bar","size":4,"stroke":"#00FF00","strokeWidth":1},"encoding":{"x":{"field":"i","type":"quantitative"},"y":{"field":"o","type":"quantitative"},"y2":{"field":"c"},"fill":{"condition":{"test":"datum.o>datum.c","value":"#ffffff"},"value":"#000000"}}},
{"data":{"name":"daily"},"mark":{"type":"rule","strokeWidth":1},"encoding":{"x":{"field":"i","type":"quantitative"},"y":{"field":"hl","type":"quantitative"},"y2":{"field":"hh"},"color":{"condition":{"test":"datum.hc>=datum.ho","value":"#0000ff"},"value":"#ff0000"}}},
{"data":{"name":"daily"},"mark":{"type":"bar","size":5},"encoding":{"x":{"field":"i","type":"quantitative"},"y":{"field":"ho","type":"quantitative"},"y2":{"field":"hc"},"color":{"condition":{"test":"datum.hc>=datum.ho","value":"#0000ff"},"value":"#ff0000"}}},
{"data":{"name":"fib"},"mark":{"type":"rule","stroke":"#dddddd","strokeWidth":1,"strokeDash":[3,3]},"encoding":{"x":{"field":"a","type":"quantitative"},"x2":{"field":"b"},"y":{"field":"p","type":"quantitative"}}},
{"data":{"values":[{"a":70.9,"b":90.9,"p0":4406.2,"p1":5420.8}]},"mark":{"type":"rule","stroke":"#ff0000","strokeWidth":1,"strokeDash":[2,3]},"encoding":{"x":{"field":"a","type":"quantitative"},"x2":{"field":"b"},"y":{"field":"p0","type":"quantitative"},"y2":{"field":"p1"}}},
{"data":{"name":"fib"},"mark":{"type":"text","align":"right","baseline":"bottom","dy":-1,"dx":-2,"color":"#c0c0c0","font":"Noto Sans","fontSize":8.5},"encoding":{"x":{"field":"b","type":"quantitative"},"y":{"field":"p","type":"quantitative"},"text":{"field":"t"}}},
{"data":{"values":[{"a":105.44,"b":117.56,"p0":5057.1,"p1":5104.7}]},"mark":{"type":"rect","fill":"#5F6B78","stroke":"#ffffff","strokeWidth":1},"encoding":{"x":{"field":"a","type":"quantitative"},"x2":{"field":"b"},"y":{"field":"p0","type":"quantitative"},"y2":{"field":"p1"}}},
{"data":{"values":[{"a":111.5,"p":5080.93}]},"mark":{"type":"text","align":"center","baseline":"middle","dy":-1,"color":"#ffffff","font":"Noto Sans","fontSize":18.5},"encoding":{"x":{"field":"a","type":"quantitative"},"y":{"field":"p","type":"quantitative"},"text":{"field":"p","format":".3f"}}},
{"data":{"values":[{"a":3.1,"p":5600.2,"t":"XAUUSD, Daily:  Gold"}]},"mark":{"type":"text","align":"left","baseline":"middle","color":"#ffffff","font":"Noto Sans","fontSize":10},"encoding":{"x":{"field":"a","type":"quantitative"},"y":{"field":"p","type":"quantitative"},"text":{"field":"t"}}},
{"data":{"values":[{"a":0.56,"b":1.5,"p0":5588.6,"p1":5611}]},"mark":{"type":"rect","fill":"#D9402F"},"encoding":{"x":{"field":"a","type":"quantitative"},"x2":{"field":"b"},"y":{"field":"p0","type":"quantitative"},"y2":{"field":"p1"}}},
{"data":{"values":[{"a":1.5,"b":2.44,"p0":5588.6,"p1":5611}]},"mark":{"type":"rect","fill":"#1C66B0"},"encoding":{"x":{"field":"a","type":"quantitative"},"x2":{"field":"b"},"y":{"field":"p0","type":"quantitative"},"y2":{"field":"p1"}}},
{"data":{"values":[{"a":0.7,"b":2.3,"p":5602.8},{"a":0.7,"b":2.3,"p":5596.7}]},"mark":{"type":"rule","stroke":"#ffffff","strokeWidth":1.5},"encoding":{"x":{"field":"a","type":"quantitative"},"x2":{"field":"b"},"y":{"field":"p","type":"quantitative"}}},
{"data":{"values":[{"a":2.55,"p":5656.4,"t":"XAUUSD,Daily"}]},"mark":{"type":"text","align":"left","baseline":"middle","color":"#808080","font":"Noto Sans","fontSize":13},"encoding":{"x":{"field":"a","type":"quantitative"},"y":{"field":"p","type":"quantitative"},"text":{"field":"t"}}},
{"data":{"values":[{"a":106.7,"p":5659,"t":"_"},{"a":111.2,"p":5652,"t":"□"},{"a":115.7,"p":5652,"t":"×"}]},"mark":{"type":"text","align":"center","baseline":"middle","color":"#9a9a9a","font":"DejaVu Sans","fontSize":14},"encoding":{"x":{"field":"a","type":"quantitative"},"y":{"field":"p","type":"quantitative"},"text":{"field":"t"}}},
{"data":{"values":[{"a":0.6875,"l":5641.6,"h":5672.1},{"a":1.4375,"l":5641.6,"h":5672.1}]},"mark":{"type":"rule","stroke":"#00B000","strokeWidth":1},"encoding":{"x":{"field":"a","type":"quantitative"},"y":{"field":"l","type":"quantitative"},"y2":{"field":"h"}}},
{"data":{"values":[{"a":0.6875,"o":5647.7,"c":5666},{"a":1.4375,"o":5647.7,"c":5666}]},"mark":{"type":"bar","size":3,"fill":"#F0F0F0","stroke":"#00B000","strokeWidth":1},"encoding":{"x":{"field":"a","type":"quantitative"},"y":{"field":"o","type":"quantitative"},"y2":{"field":"c"}}}
]},
{"width":960,"height":914,"view":{"fill":"#F0F0F0","stroke":"#8c8c8c"},"layer":[
{"data":{"values":[{"a":-0.625,"b":236.375,"p0":4983,"p1":5426.9}]},"mark":{"type":"rect","fill":"#000000"},"encoding":{
"x":{"field":"a","type":"quantitative","scale":{"domain":[0,235.5],"range":[8.5,950.5],"nice":false,"zero":false,"padding":0},"axis":{"orient":"bottom","offset":-26,"title":null,"grid":false,"zindex":2,"domainColor":"#ffffff","tickColor":"#ffffff","tickSize":4,"labelColor":"#ffffff","labelFont":"Noto Sans","labelFontSize":10,"labelAlign":"left","labelBaseline":"top","labelPadding":1,"labelOffset":-1,"labelOverlap":false,"labelFlush":false,"labelBound":false,"values":[0,16,32,48,64,80,96,112,128,144,160,176],"labelExpr":"['23 Feb 2026','24 Feb 10:00','25 Feb 03:00','25 Feb 19:00','26 Feb 12:00','27 Feb 05:00','27 Feb 21:00','2 Mar 14:00','3 Mar 07:00','3 Mar 23:00','4 Mar 16:00','5 Mar 09:00'][datum.value/16]"}},
"x2":{"field":"b"},
"y":{"field":"p0","type":"quantitative","scale":{"domain":[4992.9,5425.7],"range":[888.5,31.5],"nice":false,"zero":false},"axis":{"orient":"right","offset":-110,"title":null,"grid":false,"zindex":2,"domainColor":"#ffffff","tickColor":"#ffffff","tickSize":4,"labelColor":"#ffffff","labelFont":"Noto Sans","labelFontSize":18.5,"labelPadding":5,"labelOffset":-1,"labelOverlap":false,"labelFlush":false,"labelBound":false,"format":".3f","values":[5013.65,5039.1,5064.55,5090,5115.45,5140.9,5166.35,5191.8,5217.25,5242.7,5268.15,5293.6,5319.05,5344.5,5369.95,5395.4,5420.85]}},
"y2":{"field":"p1"}}},
{"data":{"values":[{"a":0,"b":235.5,"p0":4992.9,"p1":5425.7}]},"mark":{"type":"rect","fill":null,"stroke":"#ffffff","strokeWidth":1},"encoding":{"x":{"field":"a","type":"quantitative"},"x2":{"field":"b"},"y":{"field":"p0","type":"quantitative"},"y2":{"field":"p1"}}},
{"data":{"values":[{"a":0,"b":210.5,"p":5080.93}]},"mark":{"type":"rule","stroke":"#778899","strokeWidth":1},"encoding":{"x":{"field":"a","type":"quantitative"},"x2":{"field":"b"},"y":{"field":"p","type":"quantitative"}}},
{"data":{"name":"h1"},"mark":{"type":"rule","stroke":"#00FF00","strokeWidth":1},"encoding":{"x":{"field":"i","type":"quantitative"},"y":{"field":"l","type":"quantitative"},"y2":{"field":"h"}}},
{"data":{"name":"h1"},"mark":{"type":"bar","size":2,"stroke":"#00FF00","strokeWidth":1},"encoding":{"x":{"field":"i","type":"quantitative"},"y":{"field":"o","type":"quantitative"},"y2":{"field":"c"},"fill":{"condition":{"test":"datum.o>datum.c","value":"#ffffff"},"value":"#000000"}}},
{"data":{"name":"h1"},"mark":{"type":"rule","strokeWidth":1},"encoding":{"x":{"field":"i","type":"quantitative"},"y":{"field":"hl","type":"quantitative"},"y2":{"field":"hh"},"color":{"condition":{"test":"datum.hc>=datum.ho","value":"#0000ff"},"value":"#ff0000"}}},
{"data":{"name":"h1"},"mark":{"type":"bar","size":3},"encoding":{"x":{"field":"i","type":"quantitative"},"y":{"field":"ho","type":"quantitative"},"y2":{"field":"hc"},"color":{"condition":{"test":"datum.hc>=datum.ho","value":"#0000ff"},"value":"#ff0000"}}},
{"data":{"name":"red"},"mark":{"type":"rule","stroke":"#FF0000","strokeWidth":9,"strokeCap":"round"},"encoding":{"x":{"field":"a","type":"quantitative"},"x2":{"field":"b"},"y":{"field":"p","type":"quantitative"}}},
{"data":{"name":"darkblue"},"mark":{"type":"rule","stroke":"#0000FF","strokeWidth":9,"strokeCap":"round"},"encoding":{"x":{"field":"a","type":"quantitative"},"x2":{"field":"b"},"y":{"field":"p","type":"quantitative"}}},
{"data":{"name":"pink"},"mark":{"type":"rule","stroke":"#FFB6C1","strokeWidth":5},"encoding":{"x":{"field":"a","type":"quantitative"},"x2":{"field":"b"},"y":{"field":"p","type":"quantitative"}}},
{"data":{"name":"dodger"},"mark":{"type":"rule","stroke":"#1E90FF","strokeWidth":5},"encoding":{"x":{"field":"a","type":"quantitative"},"x2":{"field":"b"},"y":{"field":"p","type":"quantitative"}}},
{"data":{"name":"hi"},"mark":{"type":"rule","stroke":"#FFDCE2","strokeWidth":1.5,"strokeDash":[2,2]},"encoding":{"x":{"field":"a","type":"quantitative"},"x2":{"field":"b"},"y":{"field":"p","type":"quantitative"}}},
{"data":{"name":"lo"},"mark":{"type":"rule","stroke":"#00E5FF","strokeWidth":1.5,"strokeDash":[2,2]},"encoding":{"x":{"field":"a","type":"quantitative"},"x2":{"field":"b"},"y":{"field":"p","type":"quantitative"}}},
{"data":{"values":[{"a":210.8,"b":235.1,"p0":5075,"p1":5086.8}]},"mark":{"type":"rect","fill":"#5F6B78","stroke":"#ffffff","strokeWidth":1},"encoding":{"x":{"field":"a","type":"quantitative"},"x2":{"field":"b"},"y":{"field":"p0","type":"quantitative"},"y2":{"field":"p1"}}},
{"data":{"values":[{"a":223,"p":5080.93}]},"mark":{"type":"text","align":"center","baseline":"middle","dy":-1,"color":"#ffffff","font":"Noto Sans","fontSize":18.5},"encoding":{"x":{"field":"a","type":"quantitative"},"y":{"field":"p","type":"quantitative"},"text":{"field":"p","format":".3f"}}},
{"data":{"values":[{"a":6.2,"p":5420.2,"t":"XAUUSD, H1:  Gold"}]},"mark":{"type":"text","align":"left","baseline":"middle","color":"#ffffff","font":"Noto Sans","fontSize":10},"encoding":{"x":{"field":"a","type":"quantitative"},"y":{"field":"p","type":"quantitative"},"text":{"field":"t"}}},
{"data":{"values":[{"a":1.125,"b":3,"p0":5417.4,"p1":5422.9}]},"mark":{"type":"rect","fill":"#D9402F"},"encoding":{"x":{"field":"a","type":"quantitative"},"x2":{"field":"b"},"y":{"field":"p0","type":"quantitative"},"y2":{"field":"p1"}}},
{"data":{"values":[{"a":3,"b":4.875,"p0":5417.4,"p1":5422.9}]},"mark":{"type":"rect","fill":"#1C66B0"},"encoding":{"x":{"field":"a","type":"quantitative"},"x2":{"field":"b"},"y":{"field":"p0","type":"quantitative"},"y2":{"field":"p1"}}},
{"data":{"values":[{"a":1.4,"b":4.6,"p":5420.9},{"a":1.4,"b":4.6,"p":5419.4}]},"mark":{"type":"rule","stroke":"#ffffff","strokeWidth":1.5},"encoding":{"x":{"field":"a","type":"quantitative"},"x2":{"field":"b"},"y":{"field":"p","type":"quantitative"}}},
{"data":{"values":[{"a":5.1,"p":5434.2,"t":"XAUUSD,H1"}]},"mark":{"type":"text","align":"left","baseline":"middle","color":"#808080","font":"Noto Sans","fontSize":13},"encoding":{"x":{"field":"a","type":"quantitative"},"y":{"field":"p","type":"quantitative"},"text":{"field":"t"}}},
{"data":{"values":[{"a":213.4,"p":5435,"t":"_"},{"a":222.4,"p":5433.5,"t":"□"},{"a":231.4,"p":5433.5,"t":"×"}]},"mark":{"type":"text","align":"center","baseline":"middle","color":"#9a9a9a","font":"DejaVu Sans","fontSize":14},"encoding":{"x":{"field":"a","type":"quantitative"},"y":{"field":"p","type":"quantitative"},"text":{"field":"t"}}},
{"data":{"values":[{"a":1.375,"l":5430.5,"h":5438},{"a":2.875,"l":5430.5,"h":5438}]},"mark":{"type":"rule","stroke":"#00B000","strokeWidth":1},"encoding":{"x":{"field":"a","type":"quantitative"},"y":{"field":"l","type":"quantitative"},"y2":{"field":"h"}}},
{"data":{"values":[{"a":1.375,"o":5432,"c":5436.5},{"a":2.875,"o":5432,"c":5436.5}]},"mark":{"type":"bar","size":3,"fill":"#F0F0F0","stroke":"#00B000","strokeWidth":1},"encoding":{"x":{"field":"a","type":"quantitative"},"y":{"field":"o","type":"quantitative"},"y2":{"field":"c"}}}
]}
]}
